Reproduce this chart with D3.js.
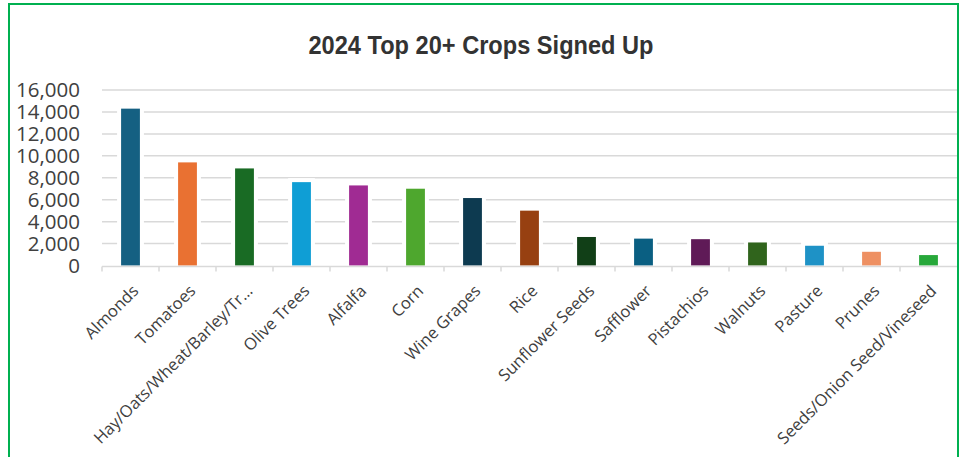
<!DOCTYPE html>
<html>
<head>
<meta charset="utf-8">
<script src="https://cdn.jsdelivr.net/npm/d3@7"></script>
<style>
  body { margin: 0; background: #fff; }
  svg { display: block; }
</style>
</head>
<body>
<div id="chart"></div>
<script>
"use strict";

var crops = ["Almonds", "Tomatoes", "Hay/Oats/Wheat/Barley/Tr\u2026", "Olive Trees", "Alfalfa", "Corn",
    "Wine Grapes", "Rice", "Sunflower Seeds", "Safflower", "Pistachios", "Walnuts", "Pasture", "Prunes",
    "Seeds/Onion Seed/Vineseed"];
var signedUp = [14300, 9400, 8850, 7600, 7300, 7000, 6150, 5000, 2600, 2450, 2400, 2100, 1800, 1250, 950];
var barColors = ["#156082", "#E97132", "#196B24", "#0F9ED5", "#A02B93", "#4EA72E", "#0D3A50", "#974011",
    "#113F17", "#0A5F82", "#5F1A57", "#30641C", "#1E92C6", "#EE9062", "#27A83A"];
var yTicks = [0, 2000, 4000, 6000, 8000, 10000, 12000, 14000, 16000];

var data = crops.map((c, i) => ({crop: c, value: signedUp[i], color: barColors[i]}));

var width = 960, height = 457;
var plotLeft = 102, plotRight = 957, plotTop = 90, plotBottom = 265.5;

var svg = d3.select("#chart")
    .append("svg")
    .attr("width", width)
    .attr("height", height);

// green frame
svg.append("rect")
    .attr("x", 9).attr("y", 4)
    .attr("width", 949).attr("height", 520)
    .attr("fill", "none")
    .attr("stroke", "#00B050")
    .attr("stroke-width", 2);

// title
svg.append("text")
    .attr("x", 481).attr("y", 54)
    .attr("text-anchor", "middle")
    .attr("font-family", "Liberation Sans, Arial, sans-serif")
    .attr("font-weight", "bold")
    .attr("font-size", 26)
    .attr("textLength", 345)
    .attr("lengthAdjust", "spacingAndGlyphs")
    .attr("fill", "#333333")
    .text("2024 Top 20+ Crops Signed Up");

// scales
var xCat = d3.scaleBand().domain(crops).range([plotLeft, plotRight]).padding(0);
var xBar = d3.scaleBand().domain(crops).range([plotLeft, plotRight]).paddingInner(0.67).paddingOuter(0.335);
var y = d3.scaleLinear().domain([0, 16000]).range([plotBottom, plotTop]);

// gridlines
svg.append("g")
    .selectAll("line")
    .data(yTicks.slice(1))
    .enter()
    .append("line")
    .attr("x1", plotLeft).attr("x2", plotRight)
    .attr("y1", d => y(d)).attr("y2", d => y(d))
    .attr("stroke", "#D9D9D9")
    .attr("stroke-width", 1.5);

// y labels
svg.append("g")
    .selectAll("text")
    .data(yTicks)
    .enter()
    .append("text")
    .attr("x", 80)
    .attr("y", d => y(d))
    .attr("dy", "0.36em")
    .attr("text-anchor", "end")
    .attr("font-family", "Open Sans, sans-serif")
    .attr("font-size", 20.5)
    .attr("fill", "#404040")
    .text(d => d3.format(",")(d));

// white halo behind bars, then bars
var bars = svg.append("g");
bars.selectAll("rect.halo")
    .data(data)
    .enter()
    .append("rect")
    .attr("class", "halo")
    .attr("x", d => xBar(d.crop) - 4)
    .attr("y", d => y(d.value) - 4)
    .attr("width", xBar.bandwidth() + 8)
    .attr("height", d => plotBottom - y(d.value) + 4)
    .attr("fill", "#fff");
bars.selectAll("rect.bar")
    .data(data)
    .enter()
    .append("rect")
    .attr("class", "bar")
    .attr("x", d => xBar(d.crop))
    .attr("y", d => y(d.value))
    .attr("width", xBar.bandwidth())
    .attr("height", d => plotBottom - y(d.value))
    .attr("fill", d => d.color);

// x axis line + ticks
var axis = svg.append("g");
axis.append("line")
    .attr("x1", plotLeft).attr("x2", plotRight)
    .attr("y1", plotBottom + 1).attr("y2", plotBottom + 1)
    .attr("stroke", "#D9D9D9")
    .attr("stroke-width", 1.5);
axis.selectAll("line.tick")
    .data(crops)
    .enter()
    .append("line")
    .attr("class", "tick")
    .attr("x1", d => xCat(d)).attr("x2", d => xCat(d))
    .attr("y1", plotBottom + 1).attr("y2", plotBottom + 6)
    .attr("stroke", "#D9D9D9")
    .attr("stroke-width", 1.5);

// x labels, rotated
axis.selectAll("text")
    .data(crops)
    .enter()
    .append("text")
    .attr("transform", d => "translate(" + (xCat(d) + xCat.bandwidth() / 2 + 9) + "," + 292 + ") rotate(-45)")
    .attr("text-anchor", "end")
    .attr("font-family", "Open Sans, sans-serif")
    .attr("font-size", 16.5)
    .attr("fill", "#404040")
    .text(d => d);
</script>
</body>
</html>
